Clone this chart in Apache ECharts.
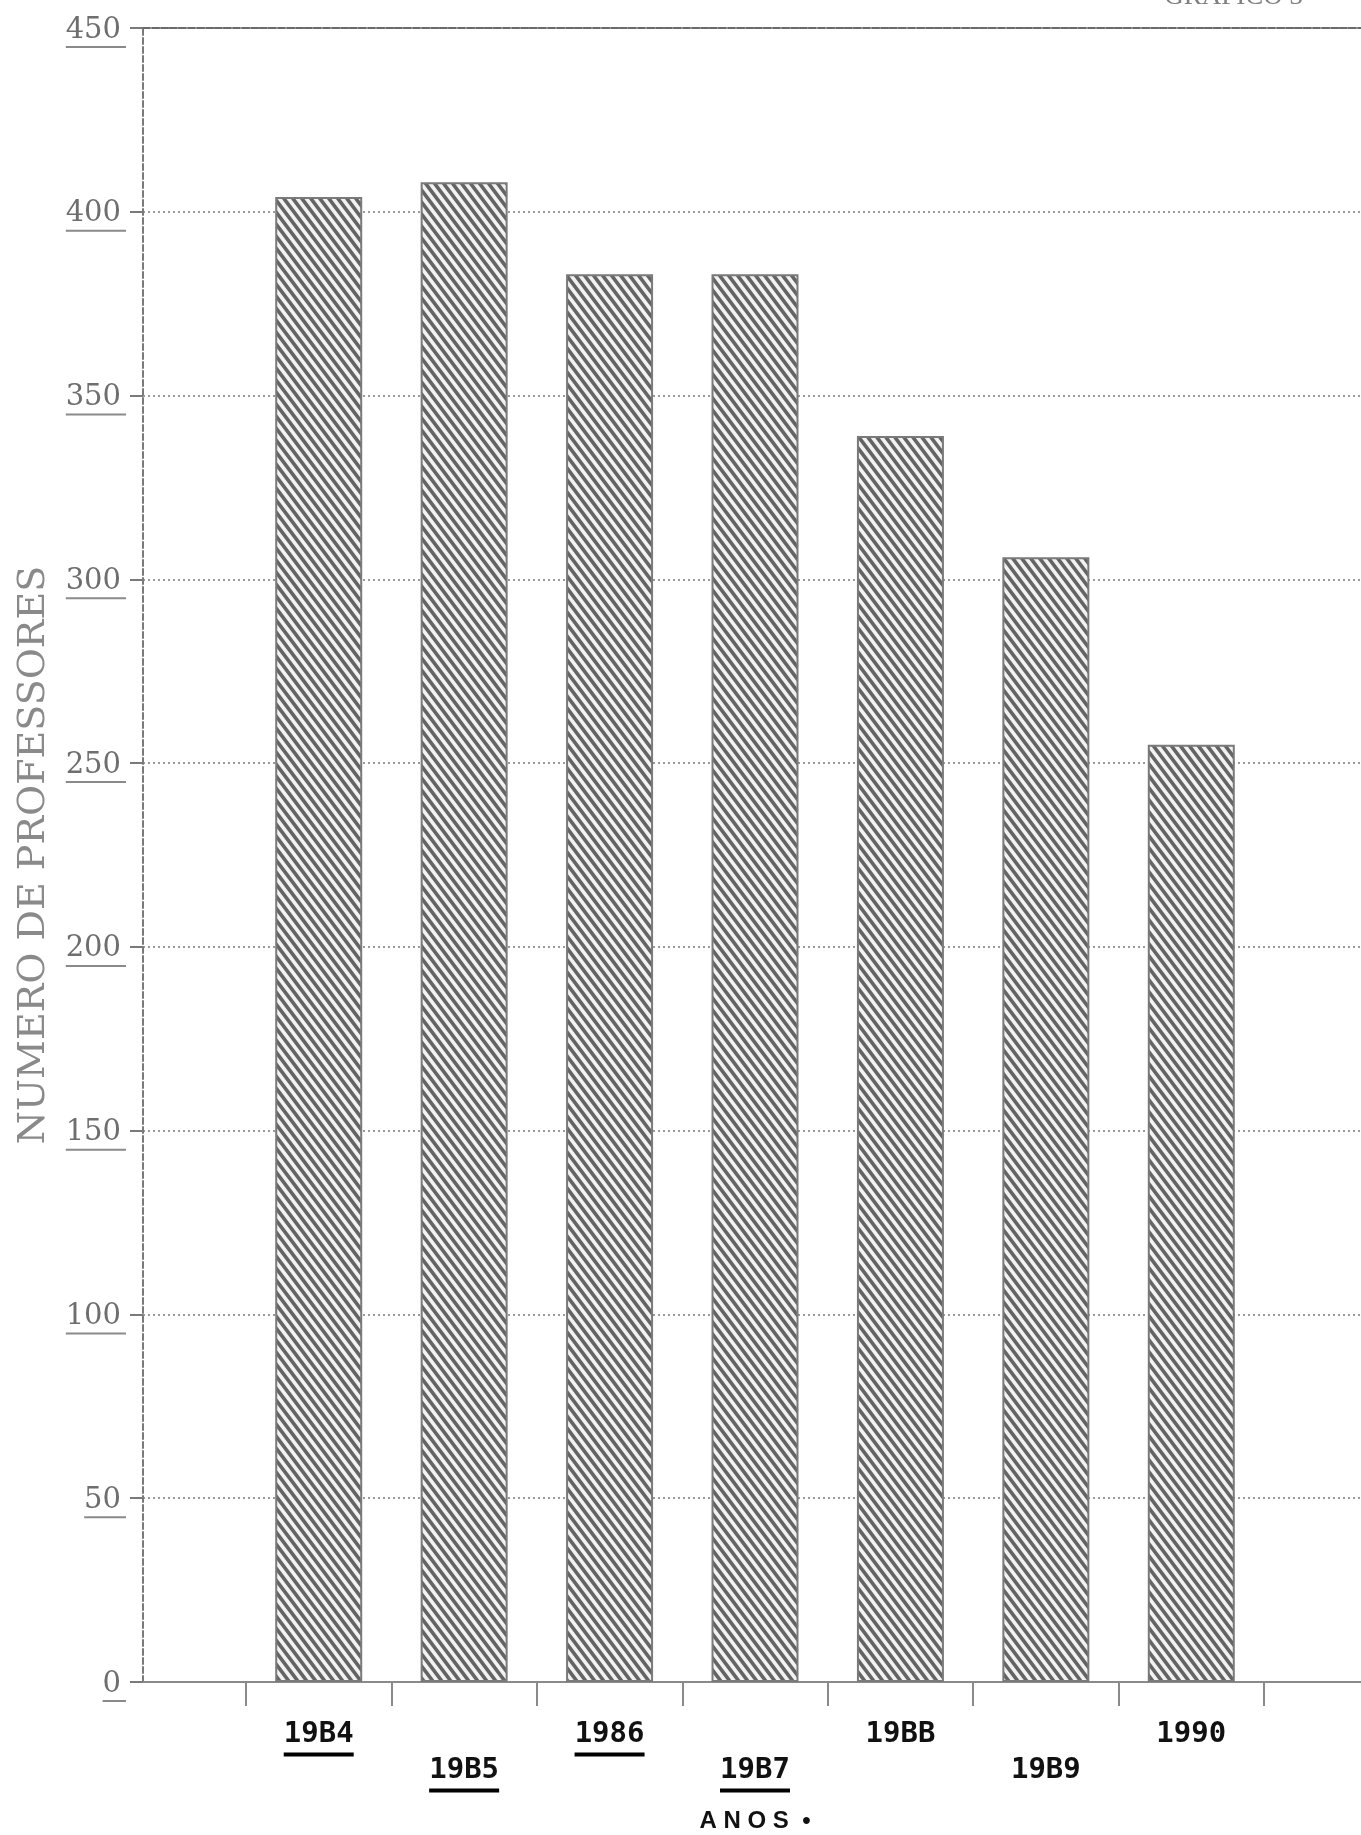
<!DOCTYPE html>
<html>
<head>
<meta charset="utf-8">
<script src="https://cdn.jsdelivr.net/npm/echarts@6/dist/echarts.min.js"></script>
<style>
  html, body { margin: 0; padding: 0; background: #ffffff; }
  #chart { width: 1361px; height: 1835px; }
</style>
</head>
<body>
<div id="chart"></div>
<script>
// ---- data ----
const categories = ['19B4', '19B5', '1986', '19B7', '19BB', '19B9', '1990'];
const professores = [404, 408, 383, 383, 339, 306, 255];
const underlinedLabels = ['19B4', '19B5', '1986', '19B7'];
const yMin = 0;
const yMax = 450;
const yInterval = 50;
const yAxisName = 'NUMERO DE PROFESSORES';
const xAxisName = 'A N O S  \u2022';
const chartTag = 'GRAFICO 3';

// ---- hatch pattern ----
function makeHatch() {
  const w = 9, h = 12;
  const c = document.createElement('canvas');
  c.width = w; c.height = h;
  const ctx = c.getContext('2d');
  ctx.fillStyle = '#f2f2f2';
  ctx.fillRect(0, 0, w, h);
  ctx.strokeStyle = '#646464';
  ctx.lineWidth = 3.6;
  for (let k = -2; k <= 2; k++) {
    const x0 = k * w;
    ctx.beginPath();
    ctx.moveTo(x0 - w, -h);
    ctx.lineTo(x0 + 2 * w, 2 * h);
    ctx.stroke();
  }
  return c;
}

const chart = echarts.init(document.getElementById('chart'), null, { renderer: 'canvas' });

const underlineRich = {};
[1, 2, 3].forEach(n => {
  underlineRich['u' + n] = { width: n * 18.4 + 5, height: 2, backgroundColor: '#8a8a8a', fontSize: 1, lineHeight: 4 };
});

const option = {
  backgroundColor: '#ffffff',
  animation: false,
  graphic: [{
    type: 'text', right: 58, top: -17,
    style: { text: chartTag, font: '27px "Liberation Serif"', fill: '#808080' }
  }],
  grid: [
    { left: 143, right: 0, top: 28, bottom: 153, outerBoundsMode: 'none', containLabel: false },
    { left: 246, right: 97, top: 28, bottom: 153, outerBoundsMode: 'none', containLabel: false }
  ],
  xAxis: [
    {
      gridIndex: 0, type: 'value', min: 0, max: 1, position: 'bottom',
      axisLine: { show: true, lineStyle: { color: '#8a8a8a', width: 2 } },
      axisTick: { show: false }, axisLabel: { show: false }, splitLine: { show: false }
    },
    {
      gridIndex: 0, type: 'value', min: 0, max: 1, position: 'top',
      axisLine: { show: true, lineStyle: { color: '#6a6a6a', width: 2, type: [7, 2] } },
      axisTick: { show: false }, axisLabel: { show: false }, splitLine: { show: false }
    },
    {
      gridIndex: 1, type: 'category', data: categories, position: 'bottom',
      boundaryGap: true,
      axisLine: { show: false },
      axisTick: { show: true, length: 24, lineStyle: { color: '#8a8a8a', width: 2 } },
      name: xAxisName, nameLocation: 'middle', nameGap: 127,
      nameTextStyle: { fontFamily: 'Liberation Sans', fontWeight: 'bold', fontSize: 24, color: '#111' },
      axisLabel: {
        interval: 0, margin: 34,
        formatter: function (value, index) {
          const ul = underlinedLabels.indexOf(value) >= 0 ? '\n{u| }' : '';
          if (index % 2 === 0) return '{t|' + value + '}' + ul;
          return '{sp| }\n{t|' + value + '}' + ul;
        },
        rich: {
          t: { fontFamily: 'DejaVu Sans Mono', fontWeight: 'bold', fontSize: 29, color: '#111', lineHeight: 36 },
          u: { width: 70, height: 4, backgroundColor: '#000', fontSize: 1, lineHeight: 5 },
          sp: { fontSize: 1, lineHeight: 36 }
        }
      }
    }
  ],
  yAxis: [
    {
      gridIndex: 0, type: 'value', min: yMin, max: yMax, interval: yInterval,
      axisLine: { show: true, lineStyle: { color: '#7a7a7a', width: 2, type: [6, 3] } },
      axisTick: { show: true, length: 13, lineStyle: { color: '#7a7a7a', width: 2 } },
      splitLine: { show: true, lineStyle: { color: '#9a9a9a', width: 2, type: [2, 3] } },
      name: yAxisName, nameLocation: 'middle', nameRotate: 90, nameGap: 90,
      nameTextStyle: { fontFamily: 'DejaVu Serif', fontSize: 38, color: '#8a8a8a' },
      axisLabel: {
        margin: 17,
        padding: [8, 0, 0, 0],
        formatter: function (v) {
          const s = String(v);
          return '{v|' + s + '}\n{u' + s.length + '| }';
        },
        rich: Object.assign({
          v: { fontFamily: 'DejaVu Serif', fontSize: 29, color: '#6e6e6e', lineHeight: 30, padding: [0, 5, 0, 0] }
        }, underlineRich)
      }
    },
    {
      gridIndex: 1, type: 'value', min: yMin, max: yMax, interval: yInterval, show: false,
      splitLine: { show: false }
    }
  ],
  series: [{
    type: 'bar',
    xAxisIndex: 2, yAxisIndex: 1,
    data: professores,
    barWidth: 87,
    itemStyle: {
      color: { image: makeHatch(), repeat: 'repeat' },
      borderColor: '#7a7a7a', borderWidth: 2
    }
  }]
};

chart.setOption(option);
</script>
</body>
</html>
